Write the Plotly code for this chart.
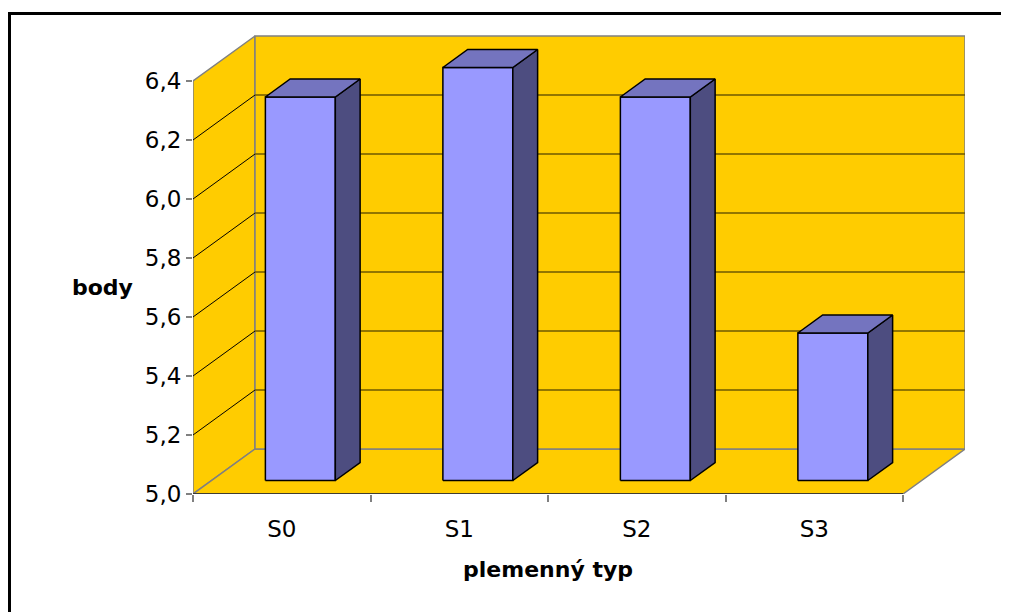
import plotly.graph_objects as go

# ---- data ----
categories = ["S0", "S1", "S2", "S3"]
values = [6.3, 6.4, 6.3, 5.5]
y_ticks = [5.0, 5.2, 5.4, 5.6, 5.8, 6.0, 6.2, 6.4]
y_tick_text = ["5,0", "5,2", "5,4", "5,6", "5,8", "6,0", "6,2", "6,4"]
x_title = "plemenný typ"
y_title = "body"

# ---- pseudo-3D projection (depth d in [0,1]) ----
Y0, YTOP = 5.0, 6.4
C0, C1 = -0.5, len(categories) - 0.5
DX = 62 / 177.5      # category units shift per full depth
DY = 45 / 295.0      # value units shift per full depth
BAR_HALF = 0.197
D_FRONT, D_BACK = 0.3, 0.7

def P(c, v, d):
    return c + d * DX, v + d * DY

def poly(points, fill, line_color, line_width):
    xs, ys = [], []
    for c, v, d in points + [points[0]]:
        x, y = P(c, v, d)
        xs.append(x); ys.append(y)
    return go.Scatter(x=xs, y=ys, mode="lines", fill="toself", fillcolor=fill,
                      line=dict(color=line_color, width=line_width),
                      hoverinfo="skip", showlegend=False)

def segs(seglist, color, width):
    xs, ys = [], []
    for a, b in seglist:
        for p in (a, b):
            x, y = P(*p)
            xs.append(x); ys.append(y)
        xs.append(None); ys.append(None)
    return go.Scatter(x=xs, y=ys, mode="lines", line=dict(color=color, width=width),
                      hoverinfo="skip", showlegend=False)

WALL = "#FFCC00"
EDGE = "#808080"
fig = go.Figure()

# walls and floor
fig.add_trace(poly([(C0, Y0, 0), (C0, YTOP, 0), (C0, YTOP, 1), (C0, Y0, 1)], WALL, EDGE, 1.5))
fig.add_trace(poly([(C0, Y0, 0), (C1, Y0, 0), (C1, Y0, 1), (C0, Y0, 1)], WALL, EDGE, 1.5))
fig.add_trace(poly([(C0, Y0, 1), (C1, Y0, 1), (C1, YTOP, 1), (C0, YTOP, 1)], WALL, EDGE, 1.5))

inner = [v for v in y_ticks if Y0 < v < YTOP]
fig.add_trace(segs([((C0, v, 1), (C1, v, 1)) for v in inner], "#6e5800", 1.5))
fig.add_trace(segs([((C0, v, 0), (C0, v, 1)) for v in inner], "#000000", 1))
fig.add_trace(segs([((C0, Y0, 0), (C1, Y0, 0))], "#202020", 1.5))

# bars
FRONT, TOP, SIDE = "#9999FF", "#7474BF", "#4D4D80"
for i, v in enumerate(values):
    l, r = i - BAR_HALF, i + BAR_HALF
    fig.add_trace(poly([(l, Y0, D_FRONT), (r, Y0, D_FRONT), (r, v, D_FRONT), (l, v, D_FRONT)], FRONT, "#000000", 1.5))
    fig.add_trace(poly([(r, Y0, D_FRONT), (r, Y0, D_BACK), (r, v, D_BACK), (r, v, D_FRONT)], SIDE, "#000000", 1.5))
    fig.add_trace(poly([(l, v, D_FRONT), (r, v, D_FRONT), (r, v, D_BACK), (l, v, D_BACK)], TOP, "#000000", 1.5))

# invisible trace for the tick-mark axis
fig.add_trace(go.Scatter(x=[C0], y=[Y0], xaxis="x2", mode="markers",
                         marker=dict(opacity=0), hoverinfo="skip", showlegend=False))

FONT = "DejaVu Sans, Liberation Sans, Arial"
OFF = 8  # default page body margin
W, H = 1009 - OFF, 612 - OFF
L = 193 - OFF
T = 35 - OFF
B = H - (494 - OFF)
R = W - (965 - OFF)
pw, ph = W - L - R, H - T - B
xmax = C0 + pw / 177.5
ymax = Y0 + ph / 295.0

def px_x(px):  # page pixel -> paper x
    return (px - OFF - L) / pw

def px_y(py):  # page pixel -> paper y
    return (H - B - (py - OFF)) / ph

fig.update_layout(
    width=W, height=H,
    margin=dict(l=L, r=R, t=T, b=B),
    paper_bgcolor="white", plot_bgcolor="white",
    xaxis=dict(range=[C0, xmax], tickvals=list(range(len(categories))), ticktext=categories,
               showgrid=False, zeroline=False, showline=False,
               ticks="outside", ticklen=14, tickcolor="rgba(0,0,0,0)",
               tickfont=dict(family=FONT, size=23, color="black")),
    xaxis2=dict(range=[C0, xmax], overlaying="x", anchor="y", side="bottom",
                tickvals=[C0 + k for k in range(len(categories) + 1)],
                showticklabels=False, ticks="outside", ticklen=7, tickcolor=EDGE, tickwidth=1.5,
                showgrid=False, zeroline=False, showline=False),
    yaxis=dict(range=[Y0, ymax], tickvals=y_ticks, ticktext=y_tick_text,
               showgrid=False, zeroline=False, showline=False,
               ticks="outside", ticklen=6, tickcolor=EDGE, tickwidth=1.5,
               tickfont=dict(family=FONT, size=23, color="black")),
    annotations=[
        dict(text=f"<b>{y_title}</b>", xref="paper", yref="paper",
             x=px_x(102), y=px_y(287), xanchor="center", yanchor="middle", showarrow=False,
             font=dict(family=FONT, size=22, color="black")),
        dict(text=f"<b>{x_title}</b>", xref="x", yref="paper",
             x=(len(categories) - 1) / 2, y=px_y(569), xanchor="center", yanchor="middle",
             showarrow=False, font=dict(family=FONT, size=22, color="black")),
    ],
    shapes=[dict(type="rect", xref="paper", yref="paper",
                 x0=px_x(9.5), x1=px_x(1040),
                 y0=px_y(640), y1=px_y(13.5),
                 line=dict(color="black", width=3))],
)

fig.write_html("out.html")
